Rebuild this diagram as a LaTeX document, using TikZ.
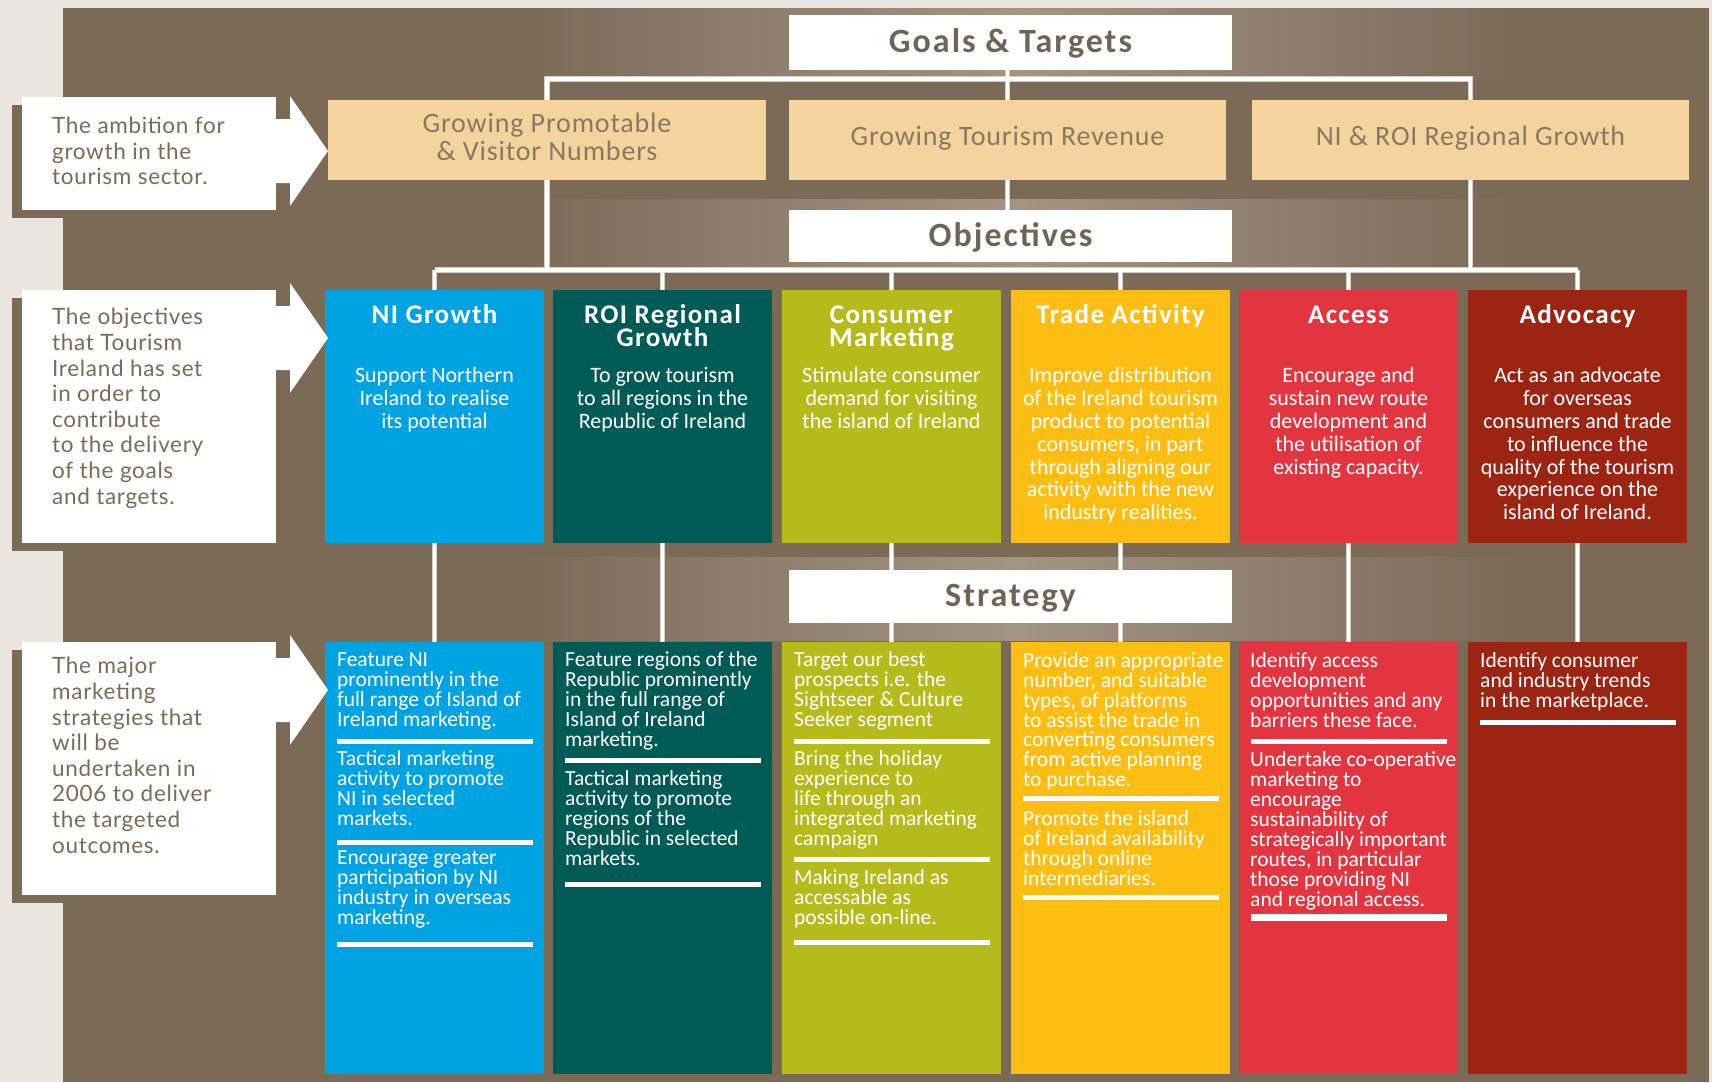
\documentclass[tikz,border=0pt]{standalone}
\usepackage{fontspec}
\setmainfont{Carlito}
\newfontfamily\labelfont[LetterSpace=3]{Lato}
\newfontfamily\headfont[LetterSpace=6]{Carlito}
\newfontfamily\titlefont[LetterSpace=5]{Carlito}
\newfontfamily\tanfont[LetterSpace=3]{Carlito}
\usetikzlibrary{calc}

\definecolor{pagebg}{HTML}{EAE6DF}
\definecolor{bgbrown}{HTML}{7B6A56}
\definecolor{bglight}{HTML}{A39483}
\definecolor{tanbox}{HTML}{F5D39D}
\definecolor{headtext}{HTML}{6E6457}
\definecolor{tantext}{HTML}{8A7862}
\definecolor{labeltext}{HTML}{7B6A56}
\definecolor{cblue}{HTML}{00A3E2}
\definecolor{cteal}{HTML}{005A55}
\definecolor{colive}{HTML}{B6BB1C}
\definecolor{cyellow}{HTML}{FDBE13}
\definecolor{cred}{HTML}{E23540}
\definecolor{cdark}{HTML}{9C2413}
\definecolor{lineedge}{HTML}{D6CFC6}

\pgfdeclarelayer{background}
\pgfsetlayers{background,main}

% one node per printed line, stacked at a fixed step
\newcommand\textrows[6]{%
  \foreach \rowtext [count=\rowidx from 0] in {#6}{%
    \node[#2] (#1-\rowidx) at (#3,{#4+\rowidx*#5}) {\rowtext};}}

% the connector tree, drawn once per pass
\newcommand\connpaths[1]{%
  \draw[#1] (tan1.north) -- (tan1.north |- gbar) -- (tan3.north |- gbar) -- (tan3.north);
  \draw[#1] (tan2.north |- goals.south) -- (tan2.north);
  \draw[#1] (tan2.south) -- (tan2.south |- objhead.north);
  \draw[#1] (tan1.south) -- (tan1.south |- obar);
  \draw[#1] (tan3.south) -- (tan3.south |- obar);
  \draw[#1] (o1.north |- obar) -- (o6.north |- obar);
  \foreach \i in {1,...,6}{%
    \draw[#1] (o\i.north) -- (o\i.north |- obar);
    \draw[#1] (o\i.south) -- (s\i.north);}}

\begin{document}
\begin{tikzpicture}[x=1pt,y=-1pt,
  panel/.style={anchor=north west,inner sep=0pt,outer sep=0pt},
  whitebox/.style={panel,fill=white,minimum width=443,minimum height=53},
  labelbox/.style={panel,fill=white,minimum width=254},
  goalbox/.style={panel,fill=tanbox,minimum width=437,minimum height=80},
  objbox/.style={panel,minimum width=219,minimum height=253},
  stratbox/.style={panel,minimum width=219,minimum height=432},
  headtxt/.style={inner sep=0pt,anchor=mid,yshift=-6.5pt,text=headtext,font=\headfont\bfseries\fontsize{34}{36}\selectfont},
  tanline/.style={inner sep=0pt,anchor=mid,yshift=-5.5pt,text=tantext,font=\tanfont\fontsize{28}{30}\selectfont},
  objtitle/.style={inner sep=0pt,anchor=mid,yshift=-6.5pt,text=white,font=\titlefont\bfseries\fontsize{27}{27}\selectfont},
  objbody/.style={inner sep=0pt,anchor=mid,yshift=-3.5pt,text=white,font=\fontsize{22}{23}\selectfont},
  strat/.style={inner sep=0pt,anchor=mid west,yshift=-4.5pt,text=white,font=\fontsize{21.5}{20}\selectfont},
  lbl/.style={inner sep=0pt,anchor=mid west,yshift=-4.5pt,text=labeltext,font=\labelfont\fontsize{22.5}{25}\selectfont},
  rulestyle/.style={draw=white,line width=5},
  connunder/.style={draw=lineedge,line width=5.5},
  connover/.style={draw=white,line width=3.5}]

\useasboundingbox (0,0) rectangle (1712,1082);

% header bars
\node[whitebox,minimum height=55] (goals) at (789,15) {};
\node[whitebox,minimum height=52] (objhead) at (789,210) {};
\node[whitebox,minimum height=53] (strathead) at (789,570) {};
\node[headtxt] (goalstxt) at (1010.5,44) {Goals \& Targets};
\node[headtxt] (objtxt) at (1010.5,238) {Objectives};
\node[headtxt] (strattxt) at (1010.5,598) {Strategy};

% goals row
\node[goalbox,minimum width=438] (tan1) at (328,100) {};
\node[goalbox] (tan2) at (789,100) {};
\node[goalbox] (tan3) at (1252,100) {};
\textrows{tan1t}{tanline}{547}{125}{28}{Growing Promotable,\& Visitor Numbers}
\node[tanline] (tan2t) at (1007.5,138) {Growing Tourism Revenue};
\node[tanline] (tan3t) at (1470.5,138) {NI \& ROI Regional Growth};

% objective and strategy columns
\foreach \i/\x/\c in {1/325/cblue,2/553/cteal,3/782/colive,4/1011/cyellow,5/1239/cred,6/1468/cdark}{%
  \node[objbox,fill=\c] (o\i) at (\x,290) {};
  \node[stratbox,fill=\c] (s\i) at (\x,642) {};}

% objective titles
\node[objtitle] (o1t) at (434.5,315) {NI Growth};
\textrows{o2t}{objtitle}{662.5}{314.5}{23}{ROI Regional,Growth}
\textrows{o3t}{objtitle}{891.5}{314.5}{23}{Consumer,Marketing}
\node[objtitle] (o4t) at (1120.5,315) {Trade Activity};
\node[objtitle] (o5t) at (1348.5,315) {Access};
\node[objtitle] (o6t) at (1577.5,315) {Advocacy};

% objective statements
\textrows{o1b}{objbody}{434.5}{377}{22.8}{Support Northern,Ireland to realise,its potential}
\textrows{o2b}{objbody}{662.5}{377}{22.8}{To grow tourism,to all regions in the,Republic of Ireland}
\textrows{o3b}{objbody}{891.5}{377}{22.8}{Stimulate consumer,demand for visiting,the island of Ireland}
\textrows{o4b}{objbody}{1120.5}{377}{22.8}{Improve distribution,of the Ireland tourism,product to potential,{consumers, in part},through aligning our,activity with the new,industry realities.}
\textrows{o5b}{objbody}{1348.5}{377}{22.8}{Encourage and,sustain new route,development and,the utilisation of,existing capacity.}
\textrows{o6b}{objbody}{1577.5}{377}{22.8}{Act as an advocate,for overseas,consumers and trade,to influence the,quality of the tourism,experience on the,island of Ireland.}

% strategy statements
\textrows{s1a}{strat}{337}{660}{20}{Feature NI,prominently in the,full range of Island of,Ireland marketing.}
\textrows{s1b}{strat}{337}{759}{20}{Tactical marketing,activity to promote,NI in selected,markets.}
\textrows{s1c}{strat}{337}{858}{20}{Encourage greater,participation by NI,industry in overseas,marketing.}
\textrows{s2a}{strat}{565}{660}{20}{Feature regions of the,Republic prominently,in the full range of,Island of Ireland,marketing.}
\textrows{s2b}{strat}{565}{779}{20}{Tactical marketing,activity to promote,regions of the,Republic in selected,markets.}
\textrows{s3a}{strat}{794}{660}{20}{Target our best,prospects i.e. the,Sightseer \& Culture,Seeker segment}
\textrows{s3b}{strat}{794}{759}{20}{Bring the holiday,experience to,life through an,integrated marketing,campaign}
\textrows{s3c}{strat}{794}{878}{20}{Making Ireland as,accessable as,possible on-line.}
\textrows{s4a}{strat}{1023}{661}{19.7}{Provide an appropriate,{number, and suitable},{types, of platforms},to assist the trade in,converting consumers,from active planning,to purchase.}
\textrows{s4b}{strat}{1023}{819}{19.7}{Promote the island,of Ireland availability,through online,intermediaries.}
\textrows{s5a}{strat}{1250}{661}{20}{Identify access,development,opportunities and any,barriers these face.}
\textrows{s5b}{strat}{1250}{760}{19.9}{Undertake co-operative,marketing to,encourage,sustainability of,strategically important,{routes, in particular},those providing NI,and regional access.}
\textrows{s6a}{strat}{1480}{661}{20}{Identify consumer,and industry trends,in the marketplace.}

% separators under each strategy
\foreach \b/\d in {s1/99,s1/200,s1/302,s2/118,s2/242,s3/99,s3/217,s3/300,s4/156,s4/255,s5/99,s6/80}{%
  \draw[rulestyle] ($(\b.north west)+(12,\d)$) -- ($(\b.north east)+(-11,\d)$);}
\draw[rulestyle,line width=7] ($(s5.north west)+(12,275)$) -- ($(s5.north east)+(-11,275)$);

% side captions
\node[labelbox,minimum height=113] (l1) at (22,97) {};
\node[labelbox,minimum height=253] (l2) at (22,290) {};
\node[labelbox,minimum height=253] (l3) at (22,642) {};
\textrows{l1t}{lbl}{52}{127}{25.5}{The ambition for,growth in the,tourism sector.}
\textrows{l2t}{lbl}{52}{318}{25.6}{The objectives,that Tourism,Ireland has set,in order to,contribute,to the delivery,of the goals,and targets.}
\textrows{l3t}{lbl}{52}{667}{25.6}{The major,marketing,strategies that,will be,undertaken in,2006 to deliver,the targeted,outcomes.}
\foreach \lb/\d in {l1/6,l2/0,l3/0}{%
  \fill[white] ($(\lb.north east)+(-1,{16+\d})$) -- ($(\lb.north east)+(14,{16+\d})$)
    -- ($(\lb.north east)+(14,{-7+\d})$) -- ($(\lb.north east)+(52,{48+\d})$)
    -- ($(\lb.north east)+(14,{103+\d})$) -- ($(\lb.north east)+(14,{80+\d})$)
    -- ($(\lb.north east)+(-1,{80+\d})$) -- cycle;}

\coordinate (gbar) at (1010,79);
\coordinate (obar) at (1010,270);

\begin{pgfonlayer}{background}
  \fill[pagebg] (0,0) rectangle (1712,1082);
  \fill[bgbrown] (63,8) rectangle (1709,1082);
  % lighter bands behind the three headers
  \fill[left color=bgbrown,right color=bgbrown,middle color=bglight] (520,8) rectangle (1520,79);
  \fill[left color=bgbrown,right color=bgbrown,middle color=bglight] (520,199) rectangle (1520,268);
  \fill[left color=bgbrown,right color=bgbrown,middle color=bglight] (520,557) rectangle (1520,640);
  % caption shadows
  \foreach \lb in {l1,l2,l3}{%
    \fill[bgbrown] ($(\lb.north west)+(-10,8)$) rectangle ($(\lb.south east)+(-10,8)$);}
  \connpaths{connunder}
  \connpaths{connover}
\end{pgfonlayer}
\end{tikzpicture}
\end{document}
